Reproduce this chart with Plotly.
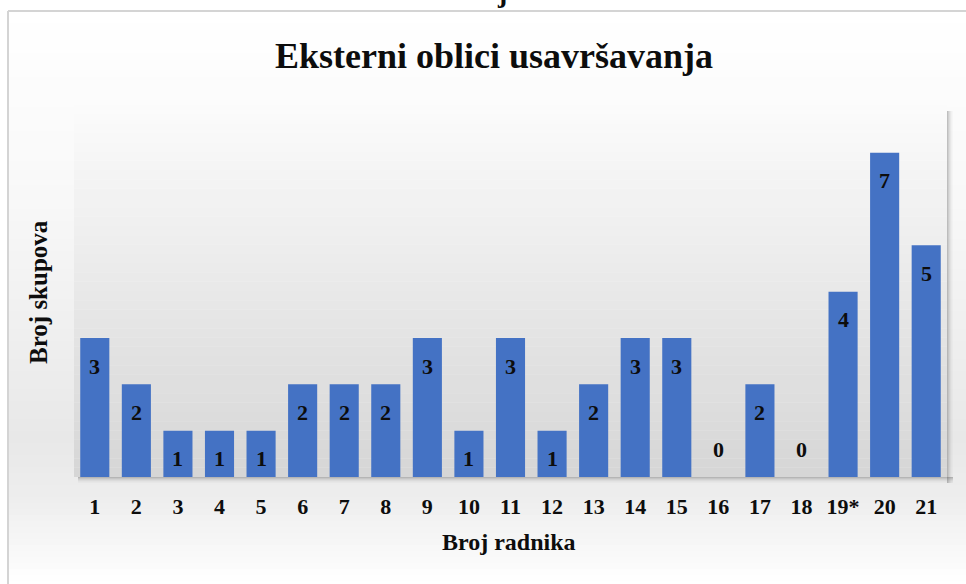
import plotly.graph_objects as go

categories = [str(i) for i in range(1, 19)] + ["19*", "20", "21"]
values = [3, 2, 1, 1, 1, 2, 2, 2, 3, 1, 3, 1, 2, 3, 3, 0, 2, 0, 4, 7, 5]

TITLE = "Eksterni oblici usavršavanja"
X_TITLE = "Broj radnika"
Y_TITLE = "Broj skupova"

W, H = 966, 584
ML, MR, MT, MB = 74, 19, 105, 107
PW, PH = W - ML - MR, H - MT - MB
FONT = "Liberation Serif"
TXT = "#0d0d0d"
BAR = "#4472C4"


def px_x(x):
    return (x - ML) / PW


def px_y(y):
    return (H - MB - y) / PH


def mix(c1, c2, t):
    return "rgb(%d,%d,%d)" % tuple(int(round(c1[k] + (c2[k] - c1[k]) * t)) for k in range(3))


fig = go.Figure()
fig.add_trace(go.Bar(
    x=categories, y=values,
    marker=dict(color=BAR, line=dict(width=0)),
    hoverinfo="x+y",
))

shapes = []
# chart-area background gradient: white top -> light grey mid-low -> white bottom
stops = [(11, (255, 255, 255)), (200, (248, 248, 248)), (440, (232, 232, 232)),
         (500, (238, 238, 238)), (584, (255, 255, 255))]
step = 6
y = 11
while y < 584:
    y2 = min(y + step, 584)
    ym = (y + y2) / 2
    for (a, ca), (b, cb) in zip(stops[:-1], stops[1:]):
        if a <= ym <= b:
            col = mix(ca, cb, (ym - a) / (b - a))
            break
    shapes.append(dict(type="rect", xref="paper", yref="paper",
                       x0=px_x(9), x1=px_x(W), y0=px_y(y2), y1=px_y(y),
                       fillcolor=col, line=dict(width=0), layer="below"))
    y = y2
# panel gradient (top light -> bottom grey)
N = 40
for i in range(N):
    t = i / (N - 1)
    shapes.append(dict(type="rect", xref="x domain", yref="y domain",
                       x0=0, x1=1, y0=1 - (i + 1) / N, y1=1 - i / N,
                       fillcolor=mix((251, 251, 251), (214, 214, 214), t),
                       line=dict(width=0), layer="below"))
# shadow below panel
for i, a in enumerate([0.35, 0.25, 0.17, 0.11, 0.06, 0.03]):
    shapes.append(dict(type="rect", xref="paper", yref="paper",
                       x0=px_x(ML + 4), x1=px_x(W - MR + 6),
                       y0=px_y(H - MB + i + 1), y1=px_y(H - MB + i),
                       fillcolor="rgba(80,80,80,%.2f)" % a, line=dict(width=0), layer="below"))
# shadow right of panel
for i, a in enumerate([0.35, 0.25, 0.17, 0.11, 0.06, 0.03]):
    shapes.append(dict(type="rect", xref="paper", yref="paper",
                       x0=px_x(W - MR + i), x1=px_x(W - MR + i + 1),
                       y0=px_y(H - MB + 6), y1=px_y(MT + 6),
                       fillcolor="rgba(80,80,80,%.2f)" % a, line=dict(width=0), layer="below"))
# outer border (left and top)
shapes.append(dict(type="line", xref="paper", yref="paper",
                   x0=px_x(8), x1=px_x(8), y0=px_y(11), y1=px_y(H + 5),
                   line=dict(color="#d4d4d4", width=2)))
shapes.append(dict(type="line", xref="paper", yref="paper",
                   x0=px_x(8), x1=px_x(W + 5), y0=px_y(11), y1=px_y(11),
                   line=dict(color="#d4d4d4", width=2)))

annotations = []
for idx, v in enumerate(values):
    annotations.append(dict(x=idx, y=v, xref="x", yref="y", text=str(v), showarrow=False,
                            yshift=(-28 if v > 0 else 28),
                            font=dict(family=FONT, size=22, color=TXT, weight="bold")))
annotations.append(dict(x=px_x(494), y=px_y(56), xref="paper", yref="paper",
                        text=TITLE, showarrow=False, xanchor="center", yanchor="middle",
                        font=dict(family=FONT, size=36, color=TXT, weight="bold")))
annotations.append(dict(x=px_x(509), y=px_y(542), xref="paper", yref="paper",
                        text=X_TITLE, showarrow=False, xanchor="center", yanchor="middle",
                        font=dict(family=FONT, size=24, color=TXT, weight="bold")))
annotations.append(dict(x=px_x(38), y=px_y(292), xref="paper", yref="paper",
                        text=Y_TITLE, showarrow=False, textangle=-90,
                        xanchor="center", yanchor="middle",
                        font=dict(family=FONT, size=25, color=TXT, weight="bold")))
annotations.append(dict(x=px_x(502), y=px_y(-8), xref="paper", yref="paper",
                        text="j", showarrow=False, xanchor="center", yanchor="middle",
                        font=dict(family=FONT, size=28, color=TXT, weight="bold")))

fig.update_layout(
    width=W, height=H,
    margin=dict(l=ML, r=MR, t=MT, b=MB, autoexpand=False),
    paper_bgcolor="white", plot_bgcolor="rgba(0,0,0,0)",
    showlegend=False, bargap=0.3,
    shapes=shapes, annotations=annotations,
    xaxis=dict(type="category", range=[-0.5, len(categories) - 0.5],
               showgrid=False, zeroline=False, showline=False,
               ticks="", ticklabelstandoff=14,
               tickfont=dict(family=FONT, size=22, color=TXT, weight="bold")),
    yaxis=dict(range=[0, 8.03], showgrid=False, zeroline=False, showline=False,
               showticklabels=False, ticks=""),
)

fig.write_html("out.html", config={"displayModeBar": False},
               post_script="document.body.style.margin='0';document.body.style.overflow='hidden';")
